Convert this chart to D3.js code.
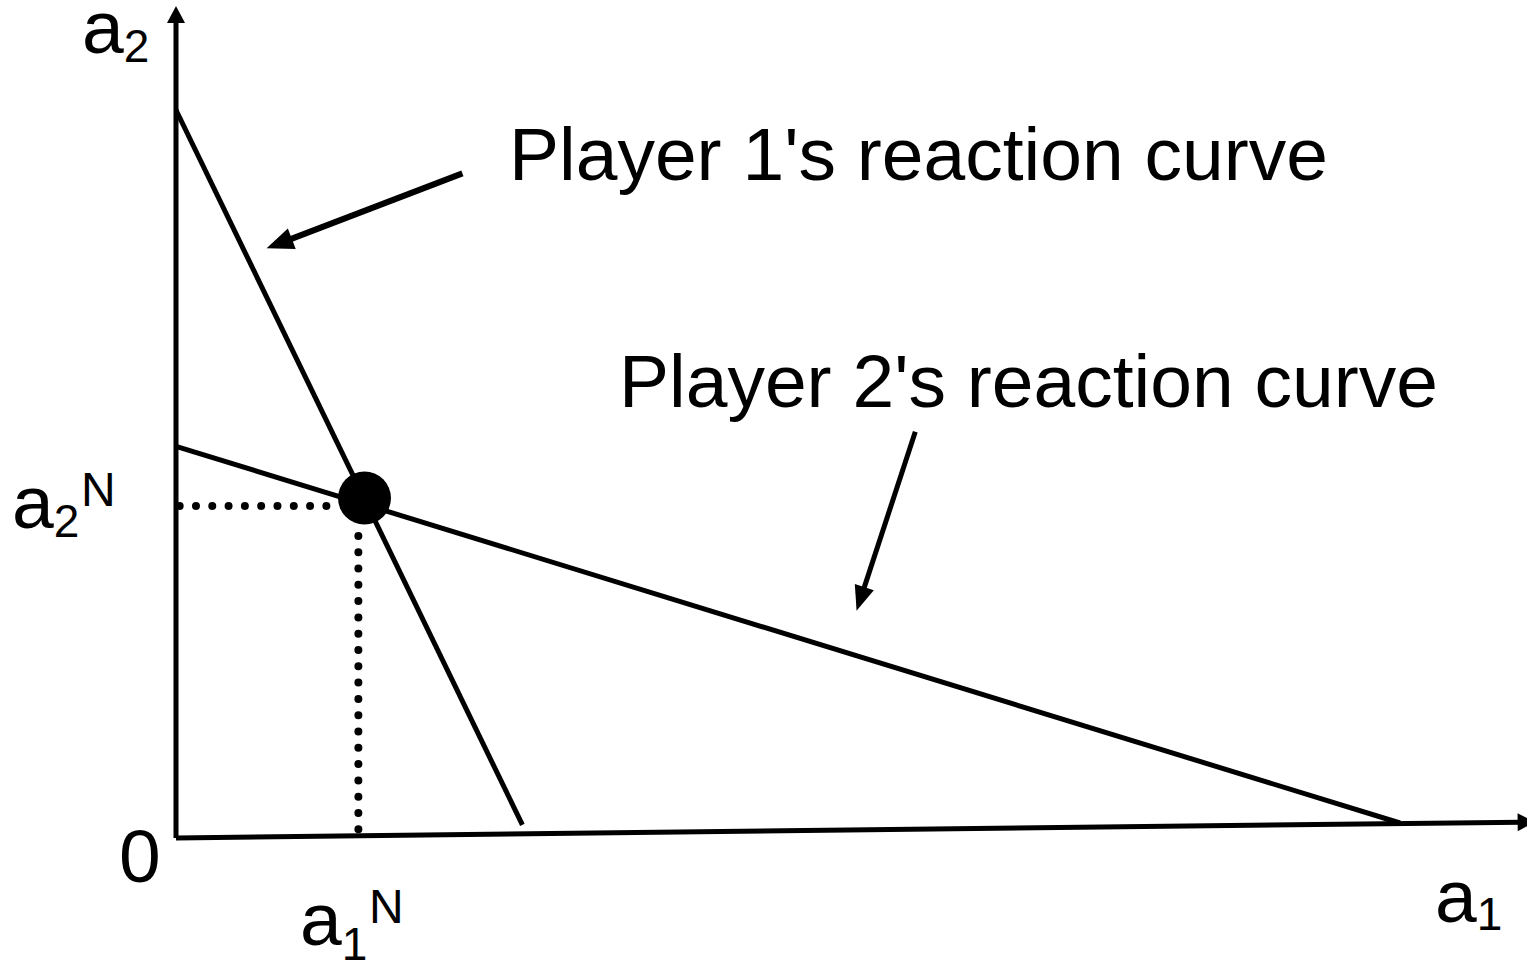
<!DOCTYPE html>
<html>
<head>
<meta charset="utf-8">
<script src="https://cdn.jsdelivr.net/npm/d3@7"></script>
<style>
  html, body { margin: 0; padding: 0; background: #fff; }
  svg { display: block; }
  text { font-family: "Liberation Sans", Arial, sans-serif; fill: #000; }
</style>
</head>
<body>
<script>
// ---- data (abstract units) ----
const xAxisLine = [[0, 0], [111.0, 2.2]];
const yAxisLine = [[0, 0], [0, 114.3]];
const player1Curve = [[0, 100], [28.3, 1.8]];
const player2Curve = [[0, 53.8], [100, 2.06]];
const nashPoint = [15.4, 46.7];
const a1N = 14.9;
const a2N = 45.6;
const dottedH = [[0.3, a2N], [13.2, a2N]];
const dottedV = [[a1N, 41.5], [a1N, 1.1]];
const arrow1 = [[23.4, 91.3], [7.4, 81.0]];
const arrow2 = [[60.4, 55.8], [55.6, 31.2]];
const curveLabels = ["Player 1's reaction curve", "Player 2's reaction curve"];
const axisLabels = ["a", "1", "2", "N", "0"];

// ---- layout ----
const W = 1527, H = 963;
const x = d3.scaleLinear().domain([0, 100]).range([176, 1400]);
const y = d3.scaleLinear().domain([0, 100]).range([838, 110]);

const svg = d3.select("body").append("svg").attr("width", W).attr("height", H);
const line = d3.line().x(d => x(d[0])).y(d => y(d[1]));

function arrowTo(pts, sw, headLen, headW) {
  const x0 = x(pts[0][0]), y0 = y(pts[0][1]);
  const x1 = x(pts[1][0]), y1 = y(pts[1][1]);
  const ang = Math.atan2(y1 - y0, x1 - x0);
  const bx = x1 - Math.cos(ang) * headLen, by = y1 - Math.sin(ang) * headLen;
  const lx = x1 - Math.cos(ang) * headLen * 0.8, ly = y1 - Math.sin(ang) * headLen * 0.8;
  svg.append("line").attr("x1", x0).attr("y1", y0).attr("x2", lx).attr("y2", ly)
    .attr("stroke", "#000").attr("stroke-width", sw);
  const px = -Math.sin(ang) * headW / 2, py = Math.cos(ang) * headW / 2;
  svg.append("path")
    .attr("d", `M${x1},${y1}L${bx + px},${by + py}L${bx - px},${by - py}Z`)
    .attr("fill", "#000");
}

// axes
arrowTo(yAxisLine, 5, 17, 18);
arrowTo(xAxisLine, 5, 17, 18);

// reaction curves
[player1Curve, player2Curve].forEach(c => {
  svg.append("path").attr("d", line(c)).attr("fill", "none")
    .attr("stroke", "#000").attr("stroke-width", 5);
});

// dotted guides
[dottedH, dottedV].forEach(c => {
  svg.append("path").attr("d", line(c)).attr("fill", "none")
    .attr("stroke", "#000").attr("stroke-width", 8)
    .attr("stroke-linecap", "round").attr("stroke-dasharray", "0 16.3");
});

// Nash equilibrium dot
svg.append("circle").attr("cx", x(nashPoint[0])).attr("cy", y(nashPoint[1]))
  .attr("r", 26.5).attr("fill", "#000");

// annotation arrows
arrowTo(arrow1, 6, 27, 22);
arrowTo(arrow2, 5, 25, 20);

// curve labels
svg.append("text").attr("x", 509).attr("y", 180).attr("font-size", 75).text(curveLabels[0]);
svg.append("text").attr("x", 619).attr("y", 407).attr("font-size", 75).text(curveLabels[1]);

// axis labels
function subLabel(xp, yp, base, sub, subDy, sup, supX, supY) {
  const t = svg.append("text").attr("x", xp).attr("y", yp).attr("font-size", 75);
  t.append("tspan").text(base);
  t.append("tspan").attr("font-size", 46).attr("dy", subDy).text(sub);
  if (sup) {
    svg.append("text").attr("x", supX).attr("y", supY).attr("font-size", 48).text(sup);
  }
}
subLabel(82, 53, axisLabels[0], axisLabels[2], 9);
subLabel(1435, 922, axisLabels[0], axisLabels[1], 8);
subLabel(12, 528, axisLabels[0], axisLabels[2], 9, axisLabels[3], 81, 506);
subLabel(300, 945, axisLabels[0], axisLabels[1], 15, axisLabels[3], 369, 923);
svg.append("text").attr("x", 119).attr("y", 882).attr("font-size", 75).text(axisLabels[4]);
</script>
</body>
</html>
